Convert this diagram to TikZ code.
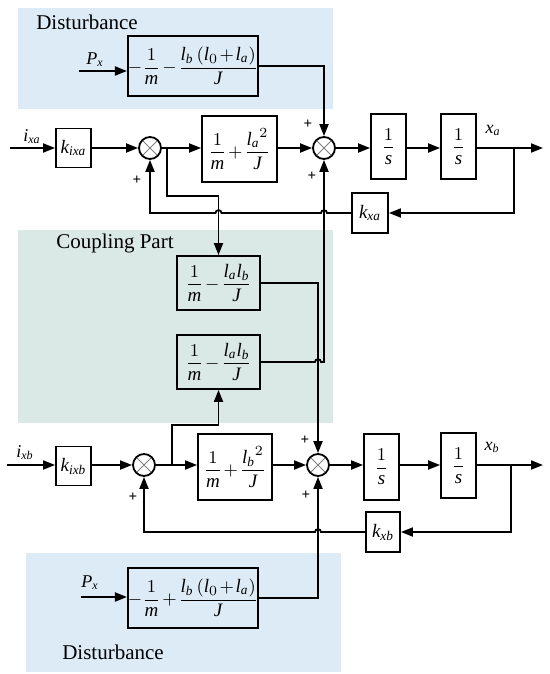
\documentclass[tikz,border=0pt]{standalone}
\usepackage{amsmath}
\usepackage{fontspec}
\setmainfont{Liberation Serif}[NFSSFamily=libser]
\DeclareSymbolFont{letters}{TU}{libser}{m}{it}
\usetikzlibrary{arrows.meta,positioning,calc}
\definecolor{distbg}{RGB}{221,235,247}
\definecolor{coupbg}{RGB}{218,233,229}
\newcommand{\tbin}{\medmuskip=1.5mu\relax}

\begin{document}
\begin{tikzpicture}[x=0.5pt,y=-0.5pt,line width=0.9pt,
    blk/.style={draw,inner sep=0pt,font=\fontsize{9.5}{11}\selectfont},
    summ/.style={draw,circle,minimum size=11pt,inner sep=0pt,
      path picture={\draw[gray,line width=0.4pt]
        (path picture bounding box.north west)--(path picture bounding box.south east)
        (path picture bounding box.north east)--(path picture bounding box.south west);}},
    arr/.style={-{Triangle[length=6pt,width=4.5pt]}},
    lbl/.style={font=\fontsize{9}{11}\selectfont},
    pls/.style={font=\fontsize{7.5}{8}\selectfont\bfseries},
    title/.style={font=\fontsize{10.5}{12}\selectfont}]
  \useasboundingbox (0,0) rectangle (550,674);
  % shaded areas
  \fill[distbg] (18,8) rectangle (333,109);
  \fill[coupbg] (18,230) rectangle (333,423);
  \fill[distbg] (26,553) rectangle (341,672);
  \node[title] (tDA) at (87,22) {Disturbance};
  \node[title] (tCP) at (115,243) {Coupling Part};
  \node[title] (tDB) at (113,652) {Disturbance};

  % upper loop (a)
  \coordinate (ina) at (10,148);
  \node[lbl] (lia) at (32,137) {$i_{xa}$};
  \node[blk,minimum width=17.5pt,minimum height=19.5pt] (kixa) at (73.5,148) {$k_{ixa}$};
  \node[summ] (sA1) at (150,148) {};
  \coordinate (brA1) at (167,148);
  \node[blk,minimum width=37.5pt,minimum height=33pt] (GA) at (239.5,149) {$\tbin\dfrac{1}{m}+\dfrac{{l_a}^{2}}{J}$};
  \node[summ] (sA2) at (324,148) {};
  \node[blk,minimum width=17.5pt,minimum height=32.5pt] (iA1) at (388.5,146.5) {$\dfrac{1}{s}$};
  \node[blk,minimum width=17.5pt,minimum height=32.5pt] (iA2) at (458.5,146.5) {$\dfrac{1}{s}$};
  \node[lbl] (lxa) at (493,130) {$x_a$};
  \coordinate (brA) at (514,148);
  \coordinate (outA) at (543,148);
  \node[blk,minimum width=18pt,minimum height=20pt] (kxa) at (370,213) {$k_{xa}$};
  \node[pls] (pA1) at (137,180) {+};
  \node[pls] (pA2) at (308,124) {+};
  \node[pls] (pA3) at (312,176) {+};

  % disturbance (a)
  \coordinate (pxa) at (79,71);
  \node[lbl] (lpxa) at (95,60) {$P_x$};
  \node[blk,minimum width=65pt,minimum height=30pt] (DA) at (193,66) {$\tbin-\dfrac{1}{m}-\dfrac{l_b\left(l_0+l_a\right)}{J}$};

  % coupling
  \node[blk,minimum width=41.5pt,minimum height=27pt] (C1) at (218.5,283) {$\tbin\dfrac{1}{m}-\dfrac{l_al_b}{J}$};
  \node[blk,minimum width=41.5pt,minimum height=27pt] (C2) at (218.5,362) {$\tbin\dfrac{1}{m}-\dfrac{l_al_b}{J}$};

  % lower loop (b)
  \coordinate (inb) at (7,465);
  \node[lbl] (lib) at (25,453) {$i_{xb}$};
  \node[blk,minimum width=17.5pt,minimum height=19.5pt] (kixb) at (73.5,466) {$k_{ixb}$};
  \node[summ] (sB1) at (144,465) {};
  \coordinate (brB1) at (172,465);
  \node[blk,minimum width=37pt,minimum height=33pt] (GB) at (235,467) {$\tbin\dfrac{1}{m}+\dfrac{{l_b}^{2}}{J}$};
  \node[summ] (sB2) at (318,465) {};
  \node[blk,minimum width=17.5pt,minimum height=33pt] (iB1) at (381.5,467) {$\dfrac{1}{s}$};
  \node[blk,minimum width=17.5pt,minimum height=32.5pt] (iB2) at (458.5,465.5) {$\dfrac{1}{s}$};
  \node[lbl] (lxb) at (492,447) {$x_b$};
  \coordinate (brB) at (511,465);
  \coordinate (outB) at (543,465);
  \node[blk,minimum width=17pt,minimum height=20pt] (kxb) at (383,532) {$k_{xb}$};
  \node[pls] (pB1) at (133,497) {+};
  \node[pls] (pB2) at (305,440) {+};
  \node[pls] (pB3) at (306,495) {+};

  % disturbance (b)
  \coordinate (pxb) at (81,597);
  \node[lbl] (lpxb) at (90,583) {$P_x$};
  \node[blk,minimum width=65pt,minimum height=30pt] (DB) at (193,598) {$\tbin-\dfrac{1}{m}+\dfrac{l_b\left(l_0+l_a\right)}{J}$};

  % signals, loop a
  \draw[arr] (ina) -- (ina -| kixa.west);
  \draw[arr] (kixa) -- (sA1);
  \draw[arr] (sA1) -- (GA.west |- sA1);
  \draw[arr] (GA.east |- sA2) -- (sA2);
  \draw[arr] (sA2) -- (iA1.west |- sA2);
  \draw[arr] (iA1.east |- sA2) -- (iA2.west |- sA2);
  \draw[arr] (iA2.east |- sA2) -- (outA);
  \draw[arr] (brA) |- (kxa.east);
  \draw[arr] (kxa.west) -- ($(sA2 |- kxa)+(3,0)$) to[out=90,in=90,looseness=1.6] ($(sA2 |- kxa)+(-3,0)$)
    -- ($(C1 |- kxa)+(3,0)$) to[out=90,in=90,looseness=1.6] ($(C1 |- kxa)+(-3,0)$)
    -- (sA1 |- kxa) -- (sA1.south);
  \draw[arr] (pxa) -- (pxa -| DA.west);
  \draw[arr] (DA.east) -| (sA2.north);
  \draw[arr] (brA1) -- ++(0,48) -| (C1.north);

  % coupling paths
  \draw[arr] (C1.east) -| (sB2.north);
  \draw[arr] (C2.east) -- ($(C2.east -| sB2)+(-3,0)$) to[out=90,in=90,looseness=1.6] ($(C2.east -| sB2)+(3,0)$)
    -- (C2.east -| sA2) -- (sA2.south);

  % signals, loop b
  \draw[arr] (inb) -- (inb -| kixb.west);
  \draw[arr] (kixb.east |- sB1) -- (sB1);
  \draw[arr] (sB1) -- (GB.west |- sB1);
  \draw[arr] (GB.east |- sB2) -- (sB2);
  \draw[arr] (sB2) -- (iB1.west |- sB2);
  \draw[arr] (iB1.east |- sB2) -- (iB2.west |- sB2);
  \draw[arr] (iB2.east |- sB2) -- (outB);
  \draw[arr] (brB) |- (kxb.east);
  \draw[arr] (kxb.west) -- ($(sB2 |- kxb)+(3,0)$) to[out=90,in=90,looseness=1.6] ($(sB2 |- kxb)+(-3,0)$)
    -- (sB1 |- kxb) -- (sB1.south);
  \draw[arr] (pxb) -- (pxb -| DB.west);
  \draw[arr] (DB.east) -| (sB2.south);
  \draw[arr] (brB1) -- ++(0,-40) -| (C2.south);
\end{tikzpicture}
\end{document}
